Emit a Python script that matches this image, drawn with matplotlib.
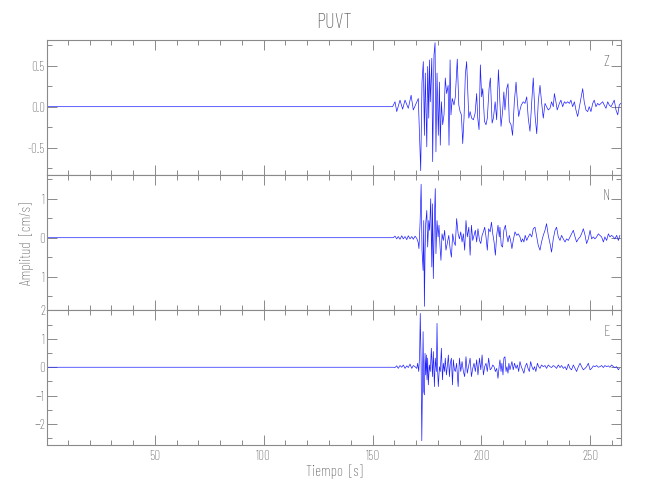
import matplotlib
matplotlib.use("Agg")
import matplotlib.pyplot as plt
from matplotlib.ticker import MultipleLocator, FixedLocator, FixedFormatter, FormatStrFormatter

# ---------------- data ----------------
station = "PUVT"
components = ["Z", "N", "E"]

t_z = [0.5, 159.2, 160.3, 161.1, 162.6, 163.8, 164.9, 166.4, 167.7, 168.7, 170.0, 171.0, 171.3,
       172.1, 172.7, 173.3, 173.8, 174.2, 174.9, 175.3, 175.8, 176.1, 176.5, 177.2, 177.6, 178.2,
       178.7, 179.1, 179.6, 180.2, 180.7, 181.1, 181.6, 182.2, 182.8, 183.4, 184.0, 184.7, 185.1,
       185.6, 186.0, 186.6, 187.4, 188.0, 188.9, 189.6, 190.2, 190.8, 191.4, 192.0, 192.6, 193.2,
       193.7, 194.2, 194.8, 195.5, 196.3, 197.1, 197.8, 198.3, 198.9, 199.5, 200.1, 200.6, 201.4,
       202.1, 202.7, 203.5, 204.1, 204.9, 205.5, 206.3, 207.0, 207.8, 208.5, 209.0, 209.7, 210.3,
       210.8, 211.6, 212.2, 212.8, 213.6, 214.3, 215.1, 215.9, 216.5, 217.1, 217.7, 218.3, 219.2,
       220.0, 220.8, 221.5, 222.3, 223.1, 223.8, 224.6, 225.4, 226.1, 226.9, 227.6, 228.4, 229.2,
       229.9, 230.7, 231.5, 232.2, 233.0, 233.5, 234.2, 234.8, 235.8, 236.5, 237.3, 238.1, 238.8,
       239.6, 240.4, 241.1, 241.9, 242.7, 243.4, 244.2, 245.0, 245.7, 246.5, 247.2, 248.0, 248.8,
       249.5, 250.3, 251.1, 251.8, 252.6, 253.4, 254.1, 254.9, 255.7, 256.4, 257.2, 258.0, 258.7,
       259.5, 260.3, 261.0, 261.8, 262.6, 263.3, 263.9]
a_z = [0.0, 0.0, 0.06, -0.06, 0.08, -0.03, 0.08, -0.02, 0.14, -0.04, 0.04, 0.10, -0.14,
       -0.78, 0.30, 0.55, -0.35, 0.41, -0.49, 0.49, -0.14, 0.57, 0.06, 0.59, -0.67, 0.63,
       0.78, -0.55, 0.41, -0.35, 0.30, -0.47, 0.06, -0.22, -0.10, 0.35, 0.16, 0.26, -0.47,
       0.57, -0.10, 0.10, 0.02, 0.12, 0.58, 0.02, -0.06, -0.10, -0.45, -0.14, 0.39, 0.55,
       0.22, -0.14, -0.06, -0.14, -0.16, -0.08, 0.16, -0.14, -0.28, 0.51, 0.12, 0.22, -0.18,
       -0.22, -0.14, 0.22, 0.35, -0.20, -0.14, 0.06, -0.16, 0.45, 0.06, -0.24, -0.06, 0.18,
       -0.04, 0.22, 0.28, -0.18, -0.22, -0.35, 0.06, 0.30, 0.06, -0.12, -0.04, 0.02, 0.06,
       0.04, 0.12, -0.14, -0.30, 0.06, 0.35, -0.10, -0.33, 0.06, 0.26, 0.06, -0.14, 0.04,
       0.00, -0.04, -0.02, 0.06, 0.00, 0.16, 0.06, -0.04, 0.04, 0.08, 0.00, 0.06, 0.04,
       0.06, 0.04, 0.08, 0.00, 0.06, -0.04, -0.12, 0.00, 0.10, 0.22, 0.06, -0.04, -0.06,
       0.00, -0.06, 0.04, 0.08, 0.00, 0.04, 0.02, 0.04, 0.06, 0.02, -0.02, 0.06, 0.02,
       0.00, 0.04, 0.08, -0.04, -0.10, 0.02, 0.04]

t_n = [0.5, 159.5, 160.3, 161.1, 161.8, 162.6, 163.4, 164.1, 164.9, 165.7, 166.4, 167.2, 168.0,
       168.7, 169.5, 170.3, 170.9, 171.3, 171.8, 172.3, 172.7, 173.2, 173.5, 173.8, 174.1, 174.4,
       174.9, 175.3, 175.8, 176.2, 176.7, 177.2, 177.5, 177.9, 178.4, 178.8, 179.1, 179.6, 180.1,
       180.5, 181.0, 181.4, 181.9, 182.5, 183.1, 183.7, 184.4, 185.0, 185.6, 186.2, 186.8, 187.4,
       188.0, 188.6, 189.3, 189.9, 190.5, 191.1, 191.7, 192.3, 192.9, 193.5, 194.2, 194.8, 195.4,
       196.0, 196.6, 197.2, 197.8, 198.4, 199.1, 199.7, 200.3, 200.9, 201.5, 202.1, 202.7, 203.3,
       204.0, 204.6, 205.2, 205.8, 206.4, 207.0, 207.6, 208.2, 208.5, 209.1, 209.7, 210.3, 211.0,
       211.6, 212.2, 212.8, 213.4, 214.0, 214.6, 215.4, 216.2, 216.9, 217.7, 218.3, 218.9, 219.5,
       220.1, 220.8, 221.5, 222.3, 223.1, 223.8, 224.6, 225.4, 226.1, 226.9, 227.6, 228.4, 229.2,
       229.9, 230.7, 231.5, 232.2, 233.0, 233.8, 234.5, 235.3, 236.1, 236.8, 237.6, 238.4, 239.1,
       239.9, 240.7, 241.4, 242.2, 243.0, 243.7, 244.5, 245.3, 246.0, 246.8, 247.6, 248.3, 249.1,
       249.9, 250.6, 251.4, 252.1, 252.9, 253.7, 254.4, 255.2, 256.0, 256.7, 257.5, 258.3, 259.0,
       259.8, 260.6, 261.3, 262.1, 262.9, 263.6]
a_n = [0.0, 0.0, 0.04, -0.03, 0.03, -0.04, 0.05, -0.03, 0.03, -0.05, 0.05, -0.03, 0.03,
       -0.04, 0.04, -0.02, -0.11, -0.28, 0.36, 1.37, -0.32, -0.84, 0.44, -1.76, -0.41, 0.36,
       0.70, -0.24, 0.44, 0.19, 1.00, -0.75, 0.87, -1.05, 0.53, 1.26, -0.41, 0.44, 0.02,
       0.32, -0.24, -0.58, 0.10, -0.07, 0.19, -0.32, -0.11, 0.06, -0.28, -0.50, 0.10, -0.11,
       -0.20, 0.49, 0.10, -0.03, 0.15, -0.11, 0.10, -0.32, 0.44, 0.02, 0.27, -0.45, 0.32,
       -0.07, 0.06, 0.19, -0.11, 0.23, -0.07, -0.15, 0.06, 0.15, 0.27, 0.02, -0.32, 0.23,
       0.15, 0.40, 0.10, -0.11, -0.45, 0.06, 0.32, 0.02, 0.27, -0.20, -0.24, 0.19, 0.32,
       0.06, -0.11, 0.06, -0.07, -0.28, -0.07, 0.15, 0.06, 0.10, 0.02, -0.11, -0.03, -0.11,
       0.06, -0.07, 0.02, 0.10, 0.02, 0.23, 0.27, 0.02, -0.20, -0.32, -0.11, 0.06, 0.19,
       0.36, 0.06, -0.15, -0.37, -0.03, 0.19, 0.27, 0.02, -0.07, 0.06, -0.03, -0.11, -0.03,
       -0.07, 0.02, 0.10, 0.19, 0.02, -0.11, -0.03, 0.02, 0.10, 0.23, 0.06, -0.15, -0.03,
       0.19, -0.03, 0.02, -0.03, 0.02, 0.10, 0.06, 0.02, -0.11, 0.02, -0.07, 0.10, 0.02,
       0.06, 0.02, -0.03, 0.06, -0.07, 0.06]

t_e = [0.5, 159.5, 160.3, 161.1, 161.8, 162.6, 163.4, 164.1, 164.9, 165.7, 166.4, 167.2, 168.0,
       168.7, 169.5, 170.3, 170.7, 171.2, 171.6, 171.9, 172.3, 172.6, 172.9, 173.2, 173.5, 173.8,
       174.1, 174.4, 174.7, 175.0, 175.3, 175.6, 176.1, 176.5, 177.0, 177.5, 177.9, 178.4, 178.8,
       179.3, 179.6, 179.9, 180.2, 180.7, 181.1, 181.6, 182.1, 182.5, 183.0, 183.4, 183.9, 184.4,
       184.8, 185.3, 185.7, 186.2, 186.7, 187.1, 187.6, 188.0, 188.6, 189.3, 189.9, 190.5, 191.1,
       191.7, 192.3, 192.9, 193.5, 194.2, 194.8, 195.4, 196.0, 196.6, 197.2, 197.8, 198.4, 199.1,
       199.7, 200.3, 200.9, 201.5, 202.1, 202.7, 203.3, 204.0, 204.6, 205.2, 205.8, 206.4, 207.0,
       207.6, 208.2, 208.5, 209.0, 209.4, 209.9, 210.3, 210.8, 211.3, 211.7, 212.2, 212.6, 213.1,
       213.6, 214.0, 214.6, 215.2, 215.9, 216.5, 217.1, 217.7, 218.3, 218.9, 219.5, 220.1, 220.8,
       221.4, 222.0, 222.6, 223.2, 223.8, 224.4, 225.0, 225.7, 226.3, 226.9, 227.6, 228.4, 229.2,
       229.9, 230.7, 231.5, 232.2, 233.0, 233.8, 234.5, 235.3, 236.1, 236.8, 237.6, 238.4, 239.1,
       239.9, 240.7, 241.4, 242.2, 243.0, 243.7, 244.5, 245.3, 246.0, 246.8, 247.6, 248.3, 249.1,
       249.9, 250.6, 251.4, 252.1, 252.9, 253.7, 254.4, 255.2, 256.0, 256.7, 257.5, 258.3, 259.0,
       259.8, 260.6, 261.3, 262.1, 262.9, 263.3]
a_e = [0.0, 0.0, -0.01, 0.05, -0.04, 0.06, 0.00, 0.08, -0.04, 0.05, -0.01, 0.11, -0.04,
       0.06, 0.02, -0.04, 0.14, -0.15, 0.43, 1.89, 0.08, -2.58, -0.50, 1.25, -0.85, -0.97,
       0.49, -0.27, 0.43, -0.44, 0.32, -0.62, 0.08, -0.15, 0.67, -0.33, 0.55, -0.68, 0.32,
       -0.15, 1.54, -0.15, -0.68, 0.02, -0.15, 0.67, -0.44, 0.14, -0.15, 0.32, -0.27, 0.08,
       0.43, -0.33, 0.14, 0.32, -0.62, 0.26, -0.09, -0.15, 0.14, -0.68, 0.32, -0.15, 0.20,
       -0.15, -0.33, 0.37, -0.21, 0.08, 0.32, -0.33, -0.04, 0.14, -0.15, 0.26, -0.27, 0.32,
       -0.09, 0.43, -0.27, 0.02, 0.14, -0.15, 0.32, -0.09, -0.04, 0.08, 0.02, -0.15, -0.04,
       -0.39, 0.08, 0.26, -0.15, 0.14, -0.27, 0.32, 0.37, -0.15, 0.02, -0.21, 0.14, -0.09,
       0.08, 0.20, -0.09, 0.14, -0.04, 0.08, -0.15, 0.20, 0.02, -0.09, -0.21, 0.02, 0.14,
       -0.04, -0.15, 0.20, 0.02, -0.09, 0.02, -0.15, 0.14, 0.02, -0.04, 0.08, 0.02, 0.06,
       -0.04, 0.08, 0.02, -0.01, 0.06, 0.02, -0.04, 0.08, -0.01, 0.06, -0.04, 0.02, -0.09,
       0.11, -0.04, -0.09, 0.08, -0.04, -0.15, 0.02, 0.14, 0.02, -0.09, -0.04, 0.02, 0.14,
       -0.09, -0.04, 0.05, 0.02, 0.06, 0.00, 0.02, 0.06, -0.01, 0.06, 0.02, 0.05, 0.00,
       0.08, 0.02, -0.01, 0.02, -0.09, -0.04]

x_range = (0.46, 264.1)
y_ranges = [(-0.833, 0.813), (-1.854, 1.608), (-2.73, 2.01)]
y_major = [0.5, 1.0, 1.0]
y_minor = [0.25, 0.5, 0.5]
n_tick_values = [-1, 0, 1]
n_tick_labels = ["1", "0", "1"]
x_label = "Tiempo  [s]"
y_label = "Amplitud  [cm/s]"

# ---------------- style ----------------
FONT = ["Barlow Condensed", "Roboto Condensed", "DejaVu Sans"]
plt.rcParams["font.family"] = FONT
plt.rcParams["font.weight"] = "light"
GREY = "#8a8a8a"
TXT = "#555555"
BLUE = "#2020ff"

fig = plt.figure(figsize=(6.5, 5.0), dpi=100)
left, width = 47 / 650, (621 - 47) / 650
bottoms = [1 - 175 / 500, 1 - 310 / 500, 1 - 445 / 500]
h = 135 / 500

series = [(t_z, a_z), (t_n, a_n), (t_e, a_e)]
axes = []
for i, (tt, aa) in enumerate(series):
    ax = fig.add_axes([left, bottoms[i], width, h])
    ax.plot(tt, aa, color=BLUE, lw=0.5)
    ax.set_xlim(*x_range)
    ax.set_ylim(*y_ranges[i])
    for s in ax.spines.values():
        s.set_color(GREY)
        s.set_linewidth(0.8)
    ax.xaxis.set_major_locator(MultipleLocator(50))
    ax.xaxis.set_minor_locator(MultipleLocator(10))
    ax.yaxis.set_major_locator(MultipleLocator(y_major[i]))
    ax.yaxis.set_minor_locator(MultipleLocator(y_minor[i]))
    ax.tick_params(which="both", direction="in", top=True, right=True, color=GREY,
                   labelcolor=TXT, labelsize=9.5, width=0.7)
    ax.tick_params(which="major", length=7)
    ax.tick_params(which="minor", length=3.5)
    ax.tick_params(axis="y", pad=1.5)
    ax.tick_params(axis="x", pad=3.5)
    if i < 2:
        ax.tick_params(axis="x", labelbottom=False)
    ax.text(0.975, 1 - 21.5 / 135, components[i], transform=ax.transAxes,
            ha="center", va="center", color=TXT, fontsize=11)
    axes.append(ax)

axes[0].yaxis.set_major_formatter(FormatStrFormatter("%.1f"))
axes[1].yaxis.set_major_locator(FixedLocator(n_tick_values))
axes[1].yaxis.set_major_formatter(FixedFormatter(n_tick_labels))

fig.text((47 + 621) / 2 / 650, 1 - 22 / 500, station, ha="center", va="center",
         color=TXT, fontsize=15)
fig.text((47 + 621) / 2 / 650, 1 - 472 / 500, x_label, ha="center", va="center",
         color=TXT, fontsize=11)
fig.text(27 / 650, 1 - 243 / 500, y_label, ha="center", va="center", rotation=90,
         color=TXT, fontsize=11)

fig.savefig("out.png", dpi=100)
